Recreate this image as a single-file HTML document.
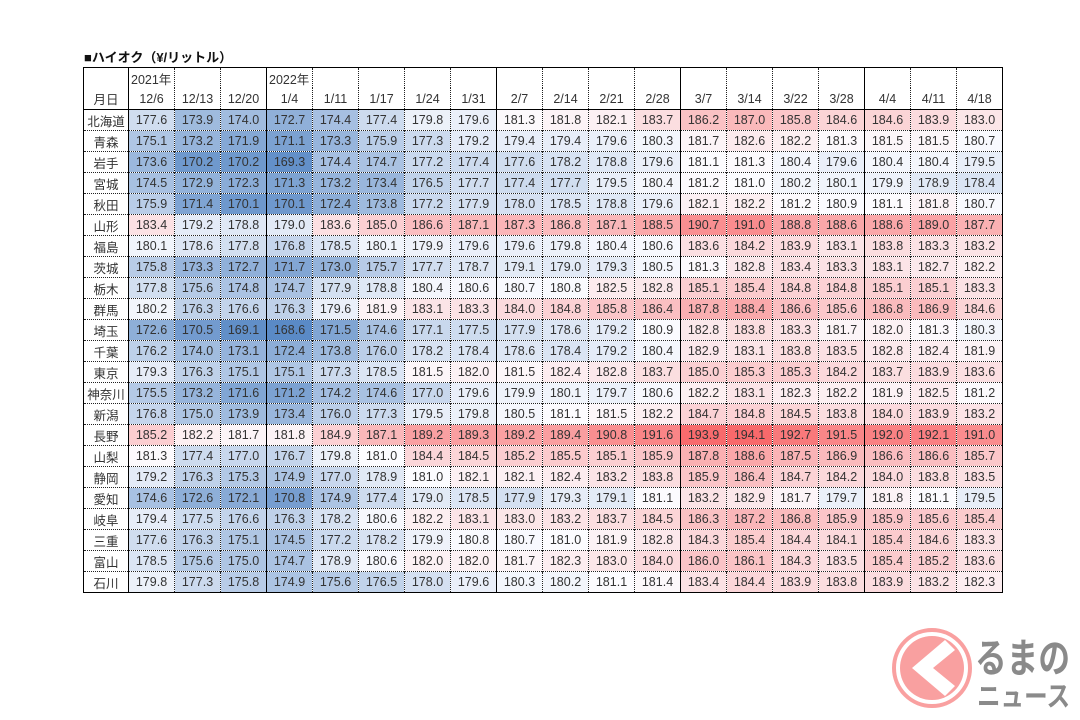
<!DOCTYPE html>
<html><head><meta charset="utf-8">
<style>
body{margin:0;width:1080px;height:720px;background:#fff;position:relative;overflow:hidden;font-family:"Liberation Sans","Noto Sans CJK JP",sans-serif;}
#title{position:absolute;left:84px;top:47px;font-size:13px;font-weight:bold;color:#111;}
table{position:absolute;left:83px;top:67px;border-collapse:collapse;table-layout:fixed;border:1.5px solid #000;}
td{padding:0;font-size:12.5px;color:#333;text-align:center;border-left:1px dotted #222;border-top:1px dotted #222;overflow:hidden;white-space:nowrap;height:20px;}
td.s{border-left:1.5px solid #000;}
tr.h1 td{border-top:none;height:20px;text-align:left;padding-left:2px}
tr.h2 td{border-top:none;height:21px;}
tr.d1 td{border-top:1.5px solid #000;}
</style></head><body>
<div id="title">■ハイオク（¥/リットル）</div>
<table id="t"></table>
<svg style="position:absolute;left:0;top:0" width="1080" height="720">
<circle cx="932" cy="668" r="38" fill="#fff" stroke="#f9a0a0" stroke-width="4"/>
<circle cx="932" cy="668" r="32" fill="#f9a0a0"/>
<path d="M945 640 L912 668 L945 696 L955 686 L933 668 L955 650 Z" fill="#fff"/>
<text x="975" y="672" font-size="40" font-weight="bold" fill="#8a8a8a" font-family="Noto Sans CJK JP,sans-serif" textLength="95" lengthAdjust="spacingAndGlyphs">るまの</text>
<text x="977" y="706" font-size="28" font-weight="bold" fill="#8a8a8a" font-family="Noto Sans CJK JP,sans-serif" textLength="93" lengthAdjust="spacingAndGlyphs">ニュース</text>
</svg>
<script>
var cols=["12/6","12/13","12/20","1/4","1/11","1/17","1/24","1/31","2/7","2/14","2/21","2/28","3/7","3/14","3/22","3/28","4/4","4/11","4/18"];
var solid={0:1,3:1,8:1,12:1,16:1};
var D=[["北海道","177.6 173.9 174.0 172.7 174.4 177.4 179.8 179.6 181.3 181.8 182.1 183.7 186.2 187.0 185.8 184.6 184.6 183.9 183.0"],
["青森","175.1 173.2 171.9 171.1 173.3 175.9 177.3 179.2 179.4 179.4 179.6 180.3 181.7 182.6 182.2 181.3 181.5 181.5 180.7"],
["岩手","173.6 170.2 170.2 169.3 174.4 174.7 177.2 177.4 177.6 178.2 178.8 179.6 181.1 181.3 180.4 179.6 180.4 180.4 179.5"],
["宮城","174.5 172.9 172.3 171.3 173.2 173.4 176.5 177.7 177.4 177.7 179.5 180.4 181.2 181.0 180.2 180.1 179.9 178.9 178.4"],
["秋田","175.9 171.4 170.1 170.1 172.4 173.8 177.2 177.9 178.0 178.5 178.8 179.6 182.1 182.2 181.2 180.9 181.1 181.8 180.7"],
["山形","183.4 179.2 178.8 179.0 183.6 185.0 186.6 187.1 187.3 186.8 187.1 188.5 190.7 191.0 188.8 188.6 188.6 189.0 187.7"],
["福島","180.1 178.6 177.8 176.8 178.5 180.1 179.9 179.6 179.6 179.8 180.4 180.6 183.6 184.2 183.9 183.1 183.8 183.3 183.2"],
["茨城","175.8 173.3 172.7 171.7 173.0 175.7 177.7 178.7 179.1 179.0 179.3 180.5 181.3 182.8 183.4 183.3 183.1 182.7 182.2"],
["栃木","177.8 175.6 174.8 174.7 177.9 178.8 180.4 180.6 180.7 180.8 182.5 182.8 185.1 185.4 184.8 184.8 185.1 185.1 183.3"],
["群馬","180.2 176.3 176.6 176.3 179.6 181.9 183.1 183.3 184.0 184.8 185.8 186.4 187.8 188.4 186.6 185.6 186.8 186.9 184.6"],
["埼玉","172.6 170.5 169.1 168.6 171.5 174.6 177.1 177.5 177.9 178.6 179.2 180.9 182.8 183.8 183.3 181.7 182.0 181.3 180.3"],
["千葉","176.2 174.0 173.1 172.4 173.8 176.0 178.2 178.4 178.6 178.4 179.2 180.4 182.9 183.1 183.8 183.5 182.8 182.4 181.9"],
["東京","179.3 176.3 175.1 175.1 177.3 178.5 181.5 182.0 181.5 182.4 182.8 183.7 185.0 185.3 185.3 184.2 183.7 183.9 183.6"],
["神奈川","175.5 173.2 171.6 171.2 174.2 174.6 177.0 179.6 179.9 180.1 179.7 180.6 182.2 183.1 182.3 182.2 181.9 182.5 181.2"],
["新潟","176.8 175.0 173.9 173.4 176.0 177.3 179.5 179.8 180.5 181.1 181.5 182.2 184.7 184.8 184.5 183.8 184.0 183.9 183.2"],
["長野","185.2 182.2 181.7 181.8 184.9 187.1 189.2 189.3 189.2 189.4 190.8 191.6 193.9 194.1 192.7 191.5 192.0 192.1 191.0"],
["山梨","181.3 177.4 177.0 176.7 179.8 181.0 184.4 184.5 185.2 185.5 185.1 185.9 187.8 188.6 187.5 186.9 186.6 186.6 185.7"],
["静岡","179.2 176.3 175.3 174.9 177.0 178.9 181.0 182.1 182.1 182.4 183.2 183.8 185.9 186.4 184.7 184.2 184.0 183.8 183.5"],
["愛知","174.6 172.6 172.1 170.8 174.9 177.4 179.0 178.5 177.9 179.3 179.1 181.1 183.2 182.9 181.7 179.7 181.8 181.1 179.5"],
["岐阜","179.4 177.5 176.6 176.3 178.2 180.6 182.2 183.1 183.0 183.2 183.7 184.5 186.3 187.2 186.8 185.9 185.9 185.6 185.4"],
["三重","177.6 176.3 175.1 174.5 177.2 178.2 179.9 180.8 180.7 181.0 181.9 182.8 184.3 185.4 184.4 184.1 185.4 184.6 183.3"],
["富山","178.5 175.6 175.0 174.7 178.9 180.6 182.0 182.0 181.7 182.3 183.0 184.0 186.0 186.1 184.3 183.5 185.4 185.2 183.6"],
["石川","179.8 177.3 175.8 174.9 175.6 176.5 178.0 179.6 180.3 180.2 181.1 181.4 183.4 184.4 183.9 183.8 183.9 183.2 182.3"]];
var MIN=168.6,MID=181,MAX=194.1,lo=[90,138,198],mi=[252,252,255],hi=[248,105,107];
function col(v){var a,b,t;if(v<MID){t=(v-MIN)/(MID-MIN);a=lo;b=mi}else{t=(v-MID)/(MAX-MID);a=mi;b=hi}
return "rgb("+[0,1,2].map(i=>Math.round(a[i]+(b[i]-a[i])*t)).join(",")+")";}
var h='<colgroup><col style="width:45px">';for(var i=0;i<19;i++)h+='<col style="width:46px">';h+='</colgroup>';
function cl(i){return solid[i]?' class="s"':'';}
h+='<tr class="h1"><td></td>';for(i=0;i<19;i++)h+='<td'+cl(i)+'>'+(i==0?'2021年':i==3?'2022年':'')+'</td>';h+='</tr>';
h+='<tr class="h2"><td>月日</td>';for(i=0;i<19;i++)h+='<td'+cl(i)+'>'+cols[i]+'</td>';h+='</tr>';
D.forEach(function(r,k){var v=r[1].split(' ');h+='<tr'+(k==0?' class="d1"':'')+'><td>'+r[0]+'</td>';
v.forEach(function(x,i){h+='<td'+cl(i)+' style="background:'+col(+x)+'">'+x+'</td>';});h+='</tr>';});
document.getElementById('t').innerHTML=h;
</script>
</body></html>
